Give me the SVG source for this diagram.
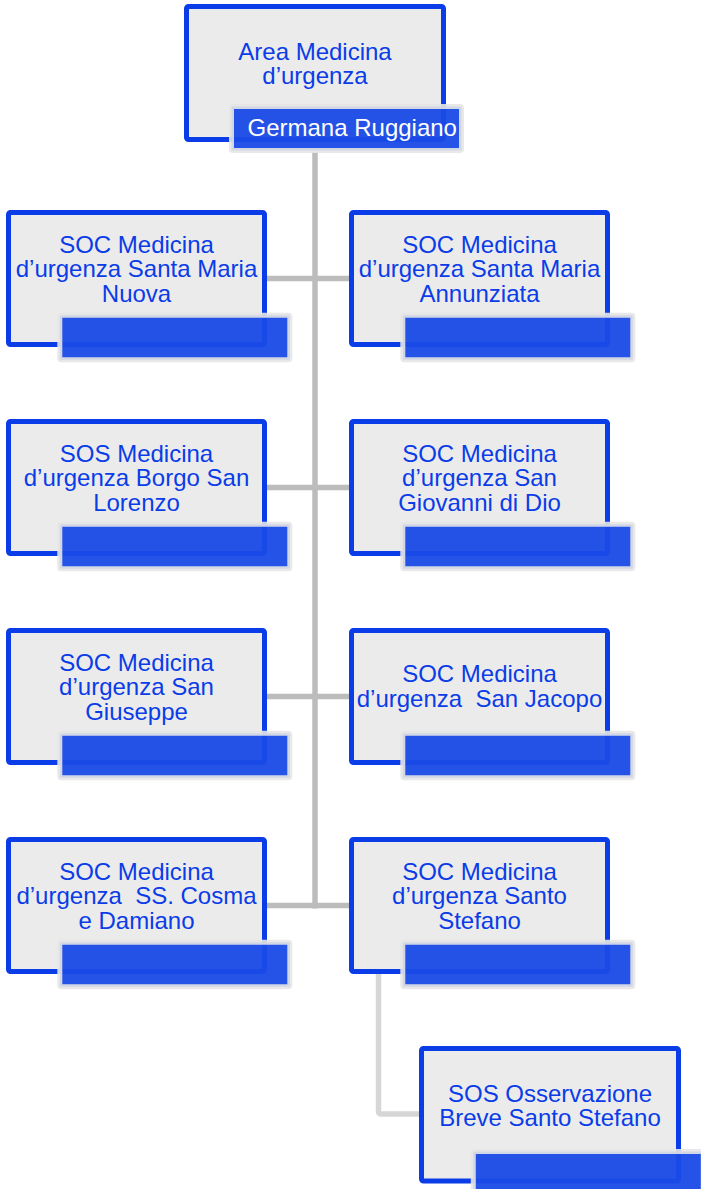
<svg xmlns="http://www.w3.org/2000/svg" width="701" height="1189" viewBox="0 0 701 1189">
<style>
.box{fill:#ebebeb;stroke:#0a3ce8;stroke-width:5}
.bar{fill:#1a4ae6;fill-opacity:0.95;stroke:#e6e6e6;stroke-opacity:0.9;stroke-width:5}
.t{font-family:"Liberation Sans",Arial,sans-serif;font-size:24px;fill:#0a3ce8;text-anchor:middle}
.n{font-family:"Liberation Sans",Arial,sans-serif;font-size:24px;fill:#ffffff}
.c{fill:none;stroke:#bcbcbc;stroke-width:5.5}
.c2{fill:none;stroke:#d6d6d6;stroke-width:5.5}
</style>
<g id="connectors">
<path class="c" d="M315 152 V908.5"/>
<path class="c" d="M267 278.5 H349"/>
<path class="c" d="M267 487.5 H349"/>
<path class="c" d="M267 696.5 H349"/>
<path class="c" d="M267 905.5 H349"/>
<path class="c2" d="M378.5 974 V1111 Q378.5 1114 381.5 1114 H420"/>
</g>
<g id="root">
<rect class="box" x="186.5" y="6.5" width="257" height="133" rx="2"/>
<rect class="bar" x="231.5" y="106.5" width="230" height="44" rx="1.5"/>
<text class="t" x="315" y="59.5">Area Medicina</text>
<text class="t" x="315" y="84">d’urgenza</text>
<text class="n" x="247.5" y="135.5">Germana Ruggiano</text>
</g>
<g id="smn">
<rect class="box" x="8.5" y="212.5" width="256" height="132" rx="2"/>
<rect class="bar" x="59.8" y="315.2" width="230" height="44.5" rx="1.5"/>
<text class="t" x="136.5" y="252.5">SOC Medicina</text>
<text class="t" x="136.5" y="277">d’urgenza Santa Maria</text>
<text class="t" x="136.5" y="301.5">Nuova</text>
</g>
<g id="sma">
<rect class="box" x="351.5" y="212.5" width="256" height="132" rx="2"/>
<rect class="bar" x="402.8" y="315.2" width="230" height="44.5" rx="1.5"/>
<text class="t" x="479.5" y="252.5">SOC Medicina</text>
<text class="t" x="479.5" y="277">d’urgenza Santa Maria</text>
<text class="t" x="479.5" y="301.5">Annunziata</text>
</g>
<g id="bsl">
<rect class="box" x="8.5" y="421.5" width="256" height="132" rx="2"/>
<rect class="bar" x="59.8" y="524.2" width="230" height="44.5" rx="1.5"/>
<text class="t" x="136.5" y="461.5">SOS Medicina</text>
<text class="t" x="136.5" y="486">d’urgenza Borgo San</text>
<text class="t" x="136.5" y="510.5">Lorenzo</text>
</g>
<g id="sgd">
<rect class="box" x="351.5" y="421.5" width="256" height="132" rx="2"/>
<rect class="bar" x="402.8" y="524.2" width="230" height="44.5" rx="1.5"/>
<text class="t" x="479.5" y="461.5">SOC Medicina</text>
<text class="t" x="479.5" y="486">d’urgenza San</text>
<text class="t" x="479.5" y="510.5">Giovanni di Dio</text>
</g>
<g id="sgi">
<rect class="box" x="8.5" y="630.5" width="256" height="132" rx="2"/>
<rect class="bar" x="59.8" y="733.2" width="230" height="44.5" rx="1.5"/>
<text class="t" x="136.5" y="670.5">SOC Medicina</text>
<text class="t" x="136.5" y="695">d’urgenza San</text>
<text class="t" x="136.5" y="719.5">Giuseppe</text>
</g>
<g id="sja">
<rect class="box" x="351.5" y="630.5" width="256" height="132" rx="2"/>
<rect class="bar" x="402.8" y="733.2" width="230" height="44.5" rx="1.5"/>
<text class="t" x="479.5" y="682">SOC Medicina</text>
<text class="t" x="479.5" y="707" xml:space="preserve">d’urgenza  San Jacopo</text>
</g>
<g id="scd">
<rect class="box" x="8.5" y="839.5" width="256" height="132" rx="2"/>
<rect class="bar" x="59.8" y="942.2" width="230" height="44.5" rx="1.5"/>
<text class="t" x="136.5" y="879.5">SOC Medicina</text>
<text class="t" x="136.5" y="904" xml:space="preserve">d’urgenza  SS. Cosma</text>
<text class="t" x="136.5" y="928.5">e Damiano</text>
</g>
<g id="sst">
<rect class="box" x="351.5" y="839.5" width="256" height="132" rx="2"/>
<rect class="bar" x="402.8" y="942.2" width="230" height="44.5" rx="1.5"/>
<text class="t" x="479.5" y="879.5">SOC Medicina</text>
<text class="t" x="479.5" y="904">d’urgenza Santo</text>
<text class="t" x="479.5" y="928.5">Stefano</text>
</g>
<g id="osb">
<rect class="box" x="421.5" y="1048.5" width="257" height="132.5" rx="2"/>
<rect class="bar" x="473.3" y="1151.5" width="230" height="44.5" rx="1.5"/>
<text class="t" x="550" y="1101.5">SOS Osservazione</text>
<text class="t" x="550" y="1126">Breve Santo Stefano</text>
</g>
</svg>
